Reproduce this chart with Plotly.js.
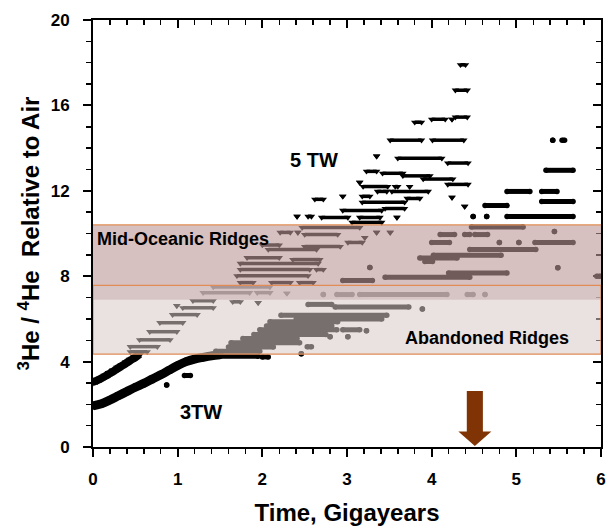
<!DOCTYPE html>
<html>
<head>
<meta charset="utf-8">
<script src="https://cdn.plot.ly/plotly-3.0.1.min.js"></script>
<style>html,body{margin:0;padding:0;background:#fff;}#chart{width:607px;height:526px;}</style>
</head>
<body>
<div id="chart"></div>
<script>
// ---- 5 TW series (triangles): horizontal runs of points [start x, end x, y] ----
const tw5X0 = [4.34,4.28,4.28,4.00,4.24,3.80,3.51,4.01,3.35,3.60,4.19,3.23,3.42,3.66,3.90,4.19,3.15,3.19,3.57,3.74,3.36,3.53,3.71,3.18,4.24,2.95,2.62,3.18,4.39,2.95,3.45,2.41,2.54,2.70,3.15,3.59,3.06,
  2.47,3.35,3.51,2.21,2.42,2.50,3.01,3.21,2.00,2.50,2.07,1.82,2.36,1.74,1.74,2.64,1.70,1.74,2.11,2.44,1.42,1.30,1.94,2.29,1.18,1.65,1.95,1.06,0.99,0.94,0.79,0.67,0.55,0.44,0.44];
const tw5X1 = [4.40,4.42,4.42,4.16,4.24,3.88,3.88,4.38,3.35,4.12,4.43,3.35,3.66,3.98,4.25,4.43,3.15,3.48,3.60,3.74,3.47,3.96,3.86,3.27,4.24,2.95,2.72,3.68,4.39,3.41,3.68,2.41,2.58,3.01,3.39,3.59,3.41,
  3.15,3.35,3.51,2.33,2.42,2.89,3.18,3.21,2.20,2.92,2.64,2.20,2.68,2.66,2.56,2.72,2.54,1.89,2.33,2.60,2.09,1.85,2.09,2.29,1.42,1.74,1.95,1.42,0.99,1.23,1.06,0.99,0.91,0.76,0.64];
const tw5Y  = [17.90,16.71,15.45,15.35,15.35,15.21,14.37,14.37,13.62,13.52,13.30,12.91,12.82,12.70,12.55,12.30,12.39,12.20,12.20,12.20,11.97,11.97,11.64,11.74,11.69,11.74,11.60,11.46,11.27,11.08,11.17,10.80,10.80,10.75,10.75,10.75,10.52,
  10.28,10.05,10.05,10.05,10.05,9.95,9.58,9.81,9.46,9.39,9.25,8.87,8.78,8.60,8.31,8.31,8.02,7.70,7.70,7.70,7.50,7.23,7.23,7.20,6.85,6.80,6.76,6.52,6.62,6.20,5.82,5.40,5.02,4.70,4.46];
// 5 TW early dense cloud
const tw5CloudX = [0,0.05,0.10,0.15,0.20,0.25,0.30,0.35,0.40,0.45,0.50,0.55];
const tw5CloudY = [3.05,3.12,3.22,3.33,3.45,3.57,3.70,3.82,3.95,4.08,4.20,4.35];

// ---- 3 TW series (circles): horizontal runs of points [start x, end x, y] ----
const tw3X0 = [1.08,0.87,1.50,2.00,2.46,
  1.45,1.60,2.53,1.63,1.77,2.80,3.01,1.90,1.97,2.95,3.23,2.05,2.09,2.40,2.22,2.86,2.54,3.89,
  2.72,2.88,3.15,4.42,4.63,
  2.95,3.45,4.20,3.27,5.49,3.92,3.86,4.02,4.45,4.00,4.80,5.03,5.22,4.10,4.39,4.51,5.45,4.47,5.95,
  4.49,4.65,4.89,4.63,5.30,4.89,5.30,5.35,5.43,5.54];
const tw3X1 = [1.15,0.87,1.95,2.07,2.46,
  1.97,2.13,2.58,2.44,2.41,2.80,3.01,2.75,2.88,3.15,3.23,2.82,2.89,3.41,3.47,3.73,2.82,3.89,
  2.72,3.06,4.18,4.49,4.63,
  3.30,4.45,4.89,3.27,5.49,4.01,4.30,4.82,5.23,4.21,4.80,5.03,5.67,4.27,4.45,4.66,5.45,5.08,5.99,
  4.49,4.65,5.67,4.89,5.67,5.16,5.48,5.67,5.43,5.57];
const tw3Y  = [3.35,2.90,4.25,4.22,4.37,
  4.48,4.68,4.69,4.88,5.08,5.16,5.16,5.27,5.49,5.49,5.45,5.67,5.87,6.00,6.17,6.56,6.68,6.46,
  7.14,7.14,7.14,7.14,7.14,
  7.80,7.95,8.15,8.41,8.40,8.69,8.85,8.98,9.25,9.58,9.58,9.58,9.58,9.95,9.95,9.95,10.09,10.30,8.00,
  10.80,10.80,10.80,11.31,11.50,11.97,11.97,12.96,14.37,14.37];
// 3 TW early dense cloud
const tw3CloudX = [0,0.10,0.20,0.30,0.40,0.50,0.60,0.70,0.80,0.90,1.00,1.10,1.20,1.30,1.40,1.50];
const tw3CloudY = [1.93,2.03,2.20,2.40,2.60,2.80,2.98,3.18,3.38,3.60,3.82,4.00,4.12,4.20,4.27,4.32];

// ---- reference bands (3He/4He ranges) ----
const morBand = [6.9, 10.4];        // Mid-Oceanic Ridges
const abandonedBand = [4.35, 7.57]; // Abandoned Ridges
const arrowTime = 4.51;             // Gy, present-day marker

const xTicks = [0,1,2,3,4,5,6];
const yTicks = [0,4,8,12,16,20];

function runs(x0, x1, y) {
  const xs = [], ys = [];
  for (let i = 0; i < y.length; i++) { xs.push(x0[i], x1[i], null); ys.push(y[i], y[i], null); }
  return {xs, ys};
}
const r5 = runs(tw5X0, tw5X1, tw5Y);
const r3 = runs(tw3X0, tw3X1, tw3Y);

const traces = [
  {x: tw3CloudX, y: tw3CloudY, mode: 'lines+markers', line: {color: '#000', width: 9, shape: 'spline'},
   marker: {symbol: 'circle', size: 8, color: '#000'}, hoverinfo: 'skip', showlegend: false},
  {x: tw5CloudX, y: tw5CloudY, mode: 'lines+markers', line: {color: '#000', width: 8, shape: 'spline'},
   marker: {symbol: 'triangle-down', size: 9, color: '#000'}, hoverinfo: 'skip', showlegend: false},
  {x: r3.xs, y: r3.ys, mode: 'lines+markers', line: {color: '#000', width: 5},
   marker: {symbol: 'circle', size: 5.5, color: '#000'}, hoverinfo: 'skip', showlegend: false},
  {x: r5.xs, y: r5.ys, mode: 'lines+markers', line: {color: '#000', width: 3.5},
   marker: {symbol: 'triangle-down', size: 6.5, color: '#000'}, hoverinfo: 'skip', showlegend: false},
  {x: [0], y: [0], xaxis: 'x2', yaxis: 'y2', mode: 'markers', marker: {opacity: 0}, hoverinfo: 'skip', showlegend: false}
];

const fontFam = '"Liberation Sans", Arial, sans-serif';
const orange = 'rgb(225,140,85)';
const shaftW = 0.095, headW = 0.195, shaftTop = 2.62, headBase = 0.73, tip = 0.05;

const layout = {
  width: 607, height: 526,
  margin: {l: 93, r: 6, t: 20, b: 79},
  paper_bgcolor: '#fff', plot_bgcolor: '#fff',
  font: {family: fontFam, color: '#000'},
  showlegend: false,
  xaxis: {range: [0, 6], tickvals: xTicks, ticktext: xTicks.map(v => '<b>' + v + '</b>'), ticks: 'outside', ticklen: 8, tickwidth: 2,
    tickcolor: '#000', showline: true, linewidth: 2, linecolor: '#000', showgrid: false, zeroline: false,
    ticklabelstandoff: 8, tickfont: {size: 17, family: fontFam, weight: 700},
    minor: {dtick: 0.2, ticks: 'outside', ticklen: 5, tickwidth: 1.5, tickcolor: '#000', showgrid: false},
    title: {text: '<b>Time, Gigayears</b>', font: {size: 24, family: fontFam}, standoff: 18}, automargin: false},
  yaxis: {range: [0, 20], tickvals: yTicks, ticktext: yTicks.map(v => '<b>' + v + '</b>'), ticks: 'outside', ticklen: 8, tickwidth: 2,
    tickcolor: '#000', showline: true, linewidth: 2, linecolor: '#000', showgrid: false, zeroline: false,
    ticklabelstandoff: 10, tickfont: {size: 17, family: fontFam, weight: 700},
    minor: {dtick: 1, ticks: 'outside', ticklen: 5, tickwidth: 1.5, tickcolor: '#000', showgrid: false},
    title: {text: '<b><sup>3</sup>He / <sup>4</sup>He&nbsp;&nbsp;Relative to Air</b>', font: {size: 24, family: fontFam}, standoff: 4}, automargin: false},
  xaxis2: {overlaying: 'x', side: 'top', range: [0, 6], tickvals: xTicks, ticks: 'inside', ticklen: 8, tickwidth: 2,
    tickcolor: '#000', showline: true, linewidth: 2, linecolor: '#000', showticklabels: false, showgrid: false, zeroline: false,
    minor: {dtick: 0.2, ticks: 'inside', ticklen: 5, tickwidth: 1.5, tickcolor: '#000'}},
  yaxis2: {overlaying: 'y', side: 'right', range: [0, 20], tickvals: yTicks, ticks: 'inside', ticklen: 8, tickwidth: 2,
    tickcolor: '#000', showline: true, linewidth: 2, linecolor: '#000', showticklabels: false, showgrid: false, zeroline: false,
    minor: {dtick: 1, ticks: 'inside', ticklen: 5, tickwidth: 1.5, tickcolor: '#000'}},
  shapes: [
    {type: 'rect', xref: 'x', yref: 'y', x0: 0, x1: 6, y0: morBand[0], y1: morBand[1], layer: 'above',
     fillcolor: 'rgba(186,150,150,0.6)', line: {width: 0}},
    {type: 'line', xref: 'x', yref: 'y', x0: 0, x1: 6, y0: morBand[1], y1: morBand[1], layer: 'above',
     line: {color: orange, width: 1.2}},
    {type: 'rect', xref: 'x', yref: 'y', x0: 0, x1: 6, y0: abandonedBand[0], y1: abandonedBand[1], layer: 'above',
     fillcolor: 'rgba(217,200,200,0.55)', line: {color: orange, width: 1.2}},
    {type: 'path', xref: 'x', yref: 'y', layer: 'above', fillcolor: 'rgb(128,52,5)', line: {width: 0},
     path: `M ${arrowTime-shaftW},${shaftTop} L ${arrowTime+shaftW},${shaftTop} L ${arrowTime+shaftW},${headBase} L ${arrowTime+headW},${headBase} L ${arrowTime},${tip} L ${arrowTime-headW},${headBase} L ${arrowTime-shaftW},${headBase} Z`}
  ],
  annotations: [
    {x: 2.61, y: 13.45, xref: 'x', yref: 'y', text: '<b>5 TW</b>', showarrow: false, font: {size: 20, family: fontFam}},
    {x: 1.27, y: 1.62, xref: 'x', yref: 'y', text: '<b>3TW</b>', showarrow: false, font: {size: 20, family: fontFam}},
    {x: 0.02, y: 9.75, xref: 'x', yref: 'y', text: '<b>Mid-Oceanic Ridges</b>', showarrow: false, xanchor: 'left', font: {size: 18, family: fontFam}},
    {x: 5.64, y: 5.09, xref: 'x', yref: 'y', text: '<b>Abandoned Ridges</b>', showarrow: false, xanchor: 'right', font: {size: 18, family: fontFam}}
  ]
};

Plotly.newPlot('chart', traces, layout, {displayModeBar: false, staticPlot: true});
</script>
</body>
</html>
